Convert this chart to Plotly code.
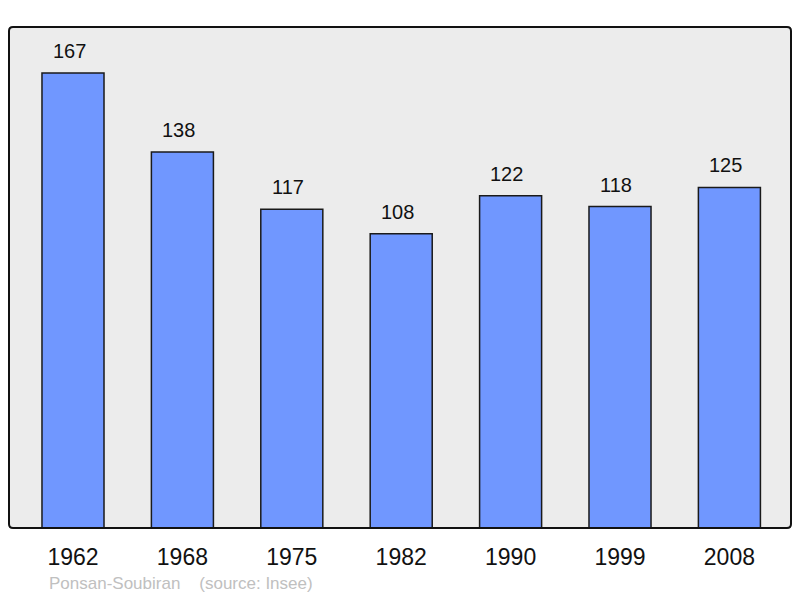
import plotly.graph_objects as go

years = ["1962", "1968", "1975", "1982", "1990", "1999", "2008"]
population = [167, 138, 117, 108, 122, 118, 125]
commune = "Ponsan-Soubiran"
source = "(source: Insee)"

idx = list(range(len(years)))
FONT = "Liberation Sans, Arial, sans-serif"

fig = go.Figure()
fig.add_trace(go.Bar(
    x=idx, y=population, width=0.567,
    marker=dict(color="#7097ff", line=dict(color="#1a1a1a", width=1.5)),
    customdata=years, hovertemplate="%{customdata}: %{y}<extra></extra>",
))

annotations = [
    dict(x=i, y=v, xref="x", yref="y", text=str(v), showarrow=False,
         yanchor="middle", yshift=22, xshift=-4,
         font=dict(family=FONT, size=20, color="#111"))
    for i, v in zip(idx, population)
]
annotations.append(dict(
    x=0.0485, y=-0.11, xref="paper", yref="paper", xanchor="left", yanchor="middle",
    text=commune + "\u00a0\u00a0\u00a0\u00a0" + source, showarrow=False,
    font=dict(family=FONT, size=17, color="#c0c0c0")))

# rounded frame (radius in paper units)
rx, ry = 4 / 782, 4 / 501
frame = (f"M {rx},0 L {1-rx},0 Q 1,0 1,{ry} L 1,{1-ry} Q 1,1 {1-rx},1 "
         f"L {rx},1 Q 0,1 0,{1-ry} L 0,{ry} Q 0,0 {rx},0 Z")

fig.update_layout(
    width=800, height=598,
    margin=dict(l=9, r=9, t=27, b=70),
    paper_bgcolor="white", plot_bgcolor="#ececec",
    showlegend=False,
    annotations=annotations,
    xaxis=dict(range=[-0.585, 6.563], showgrid=False, zeroline=False,
               tickmode="array", tickvals=idx, ticktext=years,
               ticks="outside", ticklen=8, tickcolor="rgba(0,0,0,0)",
               tickfont=dict(family=FONT, size=23, color="#111")),
    yaxis=dict(range=[0, 183.9], showgrid=False, zeroline=False, showticklabels=False),
    shapes=[dict(type="path", xref="paper", yref="paper", path=frame,
                 line=dict(color="#111", width=2), layer="above")],
)

fig.write_html("out.html", config={"displayModeBar": False},
               post_script="document.body.style.margin='0';document.body.style.overflow='hidden';")
